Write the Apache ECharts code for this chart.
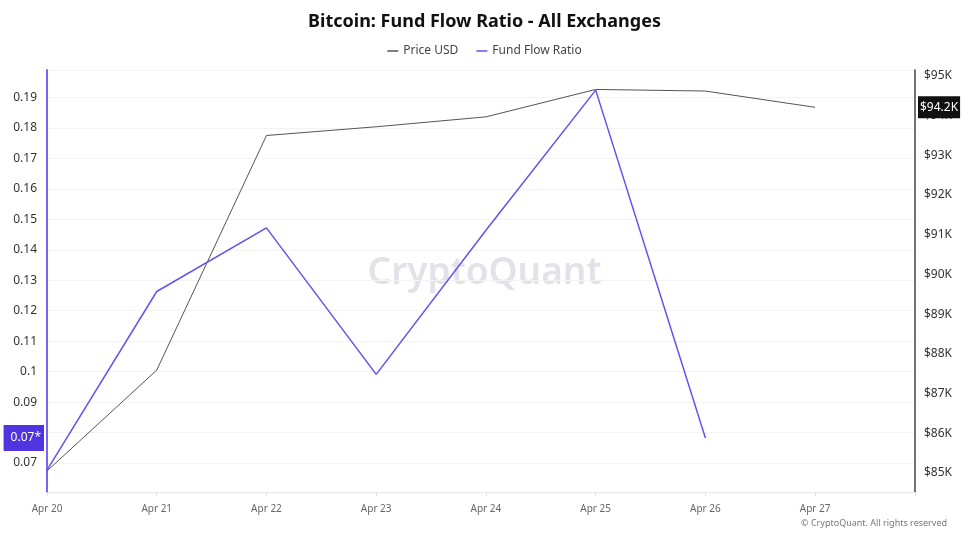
<!DOCTYPE html>
<html>
<head>
<meta charset="utf-8">
<title>Bitcoin: Fund Flow Ratio - All Exchanges</title>
<script src="https://cdn.jsdelivr.net/npm/echarts@6/dist/echarts.min.js"></script>
<style>
    html, body { margin: 0; padding: 0; background: #fff; }
    #main { width: 969px; height: 544px; }
</style>
</head>
<body>
<div id="main"></div>
<script>
// dates on the x axis
const dates = ['Apr 20', 'Apr 21', 'Apr 22', 'Apr 23', 'Apr 24', 'Apr 25', 'Apr 26', 'Apr 27']
// BTC price, USD
const priceUsd = [85050, 87590, 93500, 93720, 93970, 94660, 94620, 94210]
// fund flow ratio (no value yet for Apr 27)
const fundFlowRatio = [0.0677, 0.1263, 0.1472, 0.0991, 0.1464, 0.1924, 0.0782, null]
// last value markers shown on the axes
const ratioMarkText = '0.07*'
const priceMarkText = '$94.2K'

const purple = '#6a4ff0'
const font = 'Noto Sans'
const xMax = 7.91

const chart = echarts.init(document.getElementById('main'))

const toPoints = arr => arr.map((v, i) => [i, v])

// invisible horizontal line at the last value, only its label is shown
const lastValueMark = (value, text, pos, bg, padding) => ({
    silent: true,
    symbol: 'none',
    lineStyle: { color: 'transparent', width: 0 },
    label: {
        show: true,
        position: pos,
        distance: 3,
        formatter: text,
        color: '#fff',
        backgroundColor: bg,
        fontSize: 12,
        padding: padding
    },
    data: [[{ coord: [0, value] }, { coord: [xMax, value] }]]
})

const option = {
    backgroundColor: '#fff',
    textStyle: { fontFamily: font },
    title: {
        text: 'Bitcoin: Fund Flow Ratio - All Exchanges',
        left: 'center',
        top: 8,
        textStyle: { fontSize: 18, fontWeight: 'bold', color: '#111', fontFamily: font }
    },
    legend: {
        top: 40,
        left: 'center',
        icon: 'rect',
        itemWidth: 11,
        itemHeight: 1.5,
        itemGap: 18,
        textStyle: { fontSize: 12, color: '#444' },
        data: ['Price USD', 'Fund Flow Ratio']
    },
    graphic: [
        {
            type: 'text',
            left: 'center',
            top: 255,
            style: { text: 'CryptoQuant', fontSize: 37, fontWeight: 600, fill: '#e2e2e9', fontFamily: font },
            z: 0
        },
        {
            type: 'text',
            right: 22,
            top: 519,
            style: { text: '© CryptoQuant. All rights reserved', fontSize: 9, fill: '#777', fontFamily: font }
        }
    ],
    grid: { left: 47, right: 54, top: 70, bottom: 52 },
    xAxis: {
        type: 'value',
        min: 0,
        max: xMax,
        interval: 1,
        axisLine: { lineStyle: { color: '#e6e6e6' } },
        axisTick: { show: true, length: 4, lineStyle: { color: '#e0e0e0' } },
        axisLabel: {
            fontSize: 10,
            color: '#666',
            margin: 12,
            formatter: v => (Number.isInteger(v) && dates[v]) ? dates[v] : ''
        },
        splitLine: { show: false }
    },
    yAxis: [
        {
            type: 'value',
            position: 'left',
            min: 0.0605,
            max: 0.199,
            splitNumber: 13,
            axisLine: { show: true, lineStyle: { color: '#7a66f5', width: 2 } },
            axisTick: { show: false },
            axisLabel: {
                fontSize: 12,
                color: '#333',
                margin: 10,
                showMinLabel: false,
                showMaxLabel: false,
                formatter: v => (v < 0.065 || v > 0.195) ? '' : String(+v.toFixed(2))
            },
            splitLine: { show: true, lineStyle: { color: '#f3f3f3' } }
        },
        {
            type: 'value',
            position: 'right',
            min: 84520,
            max: 95150,
            splitNumber: 10,
            axisLine: { show: true, lineStyle: { color: '#444', width: 1.5 } },
            axisTick: { show: false },
            axisLabel: {
                fontSize: 12,
                color: '#333',
                margin: 9,
                showMinLabel: false,
                showMaxLabel: false,
                formatter: v => (v % 1000 === 0) ? '$' + (v / 1000) + 'K' : ''
            },
            splitLine: { show: false }
        }
    ],
    series: [
        {
            name: 'Price USD',
            type: 'line',
            yAxisIndex: 1,
            symbol: 'none',
            color: '#555',
            lineStyle: { width: 1, color: '#555' },
            data: toPoints(priceUsd),
            z: 3,
            markLine: lastValueMark(priceUsd[7], priceMarkText, 'end', '#111', [6, 2, 4, 2])
        },
        {
            name: 'Fund Flow Ratio',
            type: 'line',
            yAxisIndex: 0,
            symbol: 'none',
            color: purple,
            lineStyle: { width: 1.5, color: purple },
            data: toPoints(fundFlowRatio),
            z: 4,
            markLine: lastValueMark(fundFlowRatio[6], ratioMarkText, 'start', '#4f34e0', [9, 3, 5, 7])
        }
    ]
}

chart.setOption(option)
</script>
</body>
</html>
